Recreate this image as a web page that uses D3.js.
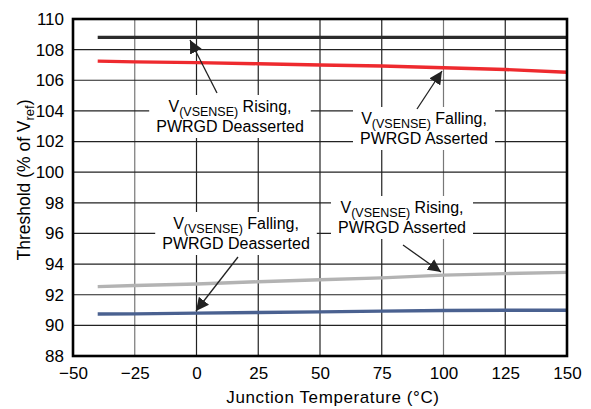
<!DOCTYPE html>
<html><head><meta charset="utf-8">
<script src="https://cdn.jsdelivr.net/npm/d3@7"></script>
<style>body{margin:0;background:#fff}svg{display:block;font-family:"Liberation Sans",Arial,sans-serif}</style>
</head><body><svg id="c" width="591" height="409"></svg>
<script>
const temps = [-40, -25, 0, 25, 50, 75, 100, 125, 150];
const risingDeasserted = [108.8, 108.8, 108.8, 108.8, 108.8, 108.8, 108.8, 108.8, 108.8];
const fallingAsserted = [107.25, 107.2, 107.15, 107.08, 107.0, 106.93, 106.82, 106.7, 106.52];
const risingAsserted = [92.53, 92.6, 92.7, 92.85, 92.98, 93.1, 93.28, 93.38, 93.46];
const fallingDeasserted = [90.74, 90.75, 90.8, 90.84, 90.88, 90.93, 90.97, 90.99, 90.99];
const xTicks = [-50, -25, 0, 25, 50, 75, 100, 125, 150];
const yTicks = [88, 90, 92, 94, 96, 98, 100, 102, 104, 106, 108, 110];
const seriesColors = ["#2b2b2b", "#ee2a2e", "#b3b3b3", "#4a6190"];

const svg = d3.select("#c");
const L = 73, R = 567, T = 19, B = 356;
const x = d3.scaleLinear().domain([-50, 150]).range([L, R]);
const y = d3.scaleLinear().domain([88, 110]).range([B, T]);

// grid
const g = svg.append("g");
g.selectAll(".vg").data(xTicks.slice(1, -1)).enter().append("line")
  .attr("x1", d => x(d)).attr("x2", d => x(d)).attr("y1", T).attr("y2", B)
  .attr("stroke", d => (d === -25 || d === 100) ? "#777" : "#222").attr("stroke-width", 1.2);
g.selectAll(".hg").data(yTicks.slice(1, -1)).enter().append("line")
  .attr("x1", L).attr("x2", R).attr("y1", d => y(d)).attr("y2", d => y(d))
  .attr("stroke", "#222").attr("stroke-width", 1.2);

// series
const line = d3.line().x(d => x(d[0])).y(d => y(d[1]));
[risingDeasserted, fallingAsserted, risingAsserted, fallingDeasserted].forEach((s, i) => {
  svg.append("path").datum(temps.map((t, j) => [t, s[j]]))
    .attr("d", line).attr("fill", "none").attr("stroke", seriesColors[i]).attr("stroke-width", 3.4);
});

// frame
svg.append("rect").attr("x", L).attr("y", T).attr("width", R - L).attr("height", B - T)
  .attr("fill", "none").attr("stroke", "#000").attr("stroke-width", 2.6);

// axes
const xa = svg.append("g").attr("transform", `translate(0,${B})`)
  .call(d3.axisBottom(x).tickValues(xTicks).tickSize(0).tickPadding(11)
    .tickFormat(d => d < 0 ? "\u2212" + Math.abs(d) : d));
const ya = svg.append("g").attr("transform", `translate(${L},0)`)
  .call(d3.axisLeft(y).tickValues(yTicks).tickSize(0).tickPadding(9));
[xa, ya].forEach(a => { a.select(".domain").remove(); a.selectAll("text").attr("font-size", 17).attr("fill", "#000").attr("font-family", "Liberation Sans, Arial, sans-serif"); });

svg.append("text").attr("x", 333).attr("y", 403).attr("text-anchor", "middle")
  .attr("font-size", 17).attr("letter-spacing", 0.6).text("Junction Temperature (°C)");
const yt = svg.append("text").attr("transform", `translate(30,180) rotate(-90)`)
  .attr("text-anchor", "middle").attr("font-size", 17.5);
yt.append("tspan").text("Threshold (% of V");
yt.append("tspan").attr("font-size", 13).attr("dy", 4).text("ref");
yt.append("tspan").attr("dy", -4).text(")");

// annotations
svg.append("defs").append("marker").attr("id", "ah").attr("viewBox", "0 0 10 10")
  .attr("refX", 10).attr("refY", 5).attr("markerWidth", 13).attr("markerHeight", 13)
  .attr("markerUnits", "userSpaceOnUse").attr("orient", "auto")
  .append("path").attr("d", "M0,0 L10,5 L0,10 z").attr("fill", "#222");

const notes = [
  {cond: "Rising,", state: "PWRGD Deasserted", cx: 230, by: 112, from: [217, 93], to: [190, 40]},
  {cond: "Falling,", state: "PWRGD Asserted", cx: 424, by: 124, from: [417, 109], to: [442, 71]},
  {cond: "Falling,", state: "PWRGD Deasserted", cx: 236, by: 229, from: [238, 257], to: [196, 311]},
  {cond: "Rising,", state: "PWRGD Asserted", cx: 402, by: 213, from: [403, 245], to: [441, 272]}
];
notes.forEach(n => {
  const grp = svg.append("g");
  const rect = grp.append("rect").attr("fill", "#fff");
  const t1 = grp.append("text").attr("x", n.cx).attr("y", n.by).attr("text-anchor", "middle").attr("font-size", 16);
  t1.append("tspan").text("V");
  t1.append("tspan").attr("font-size", 12.5).attr("dy", 4).text("(VSENSE)");
  t1.append("tspan").attr("dy", -4).text(" " + n.cond);
  grp.append("text").attr("x", n.cx).attr("y", n.by + 20).attr("text-anchor", "middle").attr("font-size", 16).text(n.state);
  const bb = grp.node().getBBox();
  rect.attr("x", bb.x - 7).attr("y", bb.y - 3).attr("width", bb.width + 14).attr("height", bb.height + 6);
  svg.append("line").attr("x1", n.from[0]).attr("y1", n.from[1]).attr("x2", n.to[0]).attr("y2", n.to[1])
    .attr("stroke", "#222").attr("stroke-width", 1.3).attr("marker-end", "url(#ah)");
});
</script></body></html>
